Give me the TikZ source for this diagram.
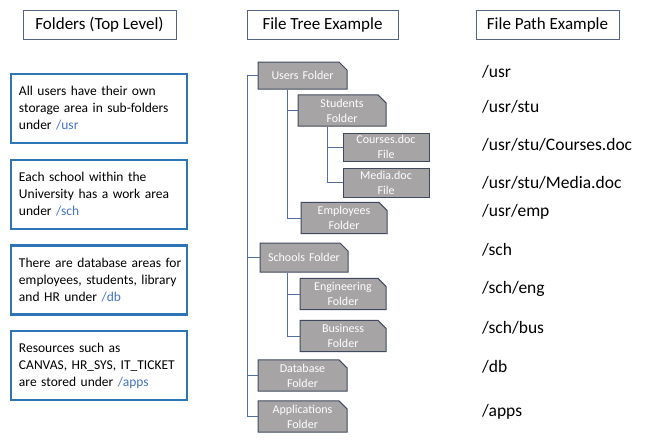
\documentclass[tikz,border=0pt]{standalone}
\usepackage{fontspec}
\setmainfont{Carlito}
\usepackage{tikz}
\usetikzlibrary{positioning,shapes.misc}
\definecolor{noteblue}{RGB}{46,117,181}
\definecolor{linkblue}{RGB}{68,114,196}
\definecolor{foldergray}{RGB}{166,164,165}
\definecolor{folderedge}{RGB}{64,74,94}
\definecolor{branchblue}{RGB}{80,110,160}
\definecolor{headedge}{RGB}{84,100,130}
\newcommand{\noteline}[1]{\mbox{#1}}
\tikzset{
  headbox/.style={draw=headedge,line width=0.8pt,inner sep=0pt,align=center,
                  minimum height=29pt,font=\fontsize{17}{20}\selectfont},
  notebox/.style={draw=noteblue,line width=2.2pt,inner sep=0pt,align=left,text width=160pt,
                  minimum width=176pt,minimum height=69pt,font=\fontsize{13.5}{17}\selectfont},
  filebox/.style={draw=folderedge,line width=1pt,fill=foldergray,text=white,inner sep=0pt,
                  align=center,text width=80pt,minimum width=86pt,minimum height=29pt,
                  font=\fontsize{12}{15}\selectfont},
  folder/.style={filebox,chamfered rectangle,chamfered rectangle corners=north east,
                 chamfered rectangle xsep=4pt,chamfered rectangle ysep=4pt},
  branch/.style={draw=branchblue,line width=0.8pt},
  pathtxt/.style={anchor=west,inner sep=0pt,font=\fontsize{17.5}{20}\selectfont},
}
\begin{document}
\begin{tikzpicture}[x=1pt,y=-1pt]
  \useasboundingbox (0,0) rectangle (645,440);
  % headers
  \node[headbox,minimum width=153pt] (hfold) at (99.5,24.5) {Folders (Top Level)};
  \node[headbox,minimum width=151pt] (htree) at (322.5,25) {File Tree Example};
  \node[headbox,minimum width=143pt] (hpath) at (547.5,25) {File Path Example};
  % notes on the left
  \node[notebox] (nusr) at (99,108.5) {\noteline{All users have their own}\\\noteline{storage area in sub-folders}\\under \textcolor{linkblue}{/usr}};
  \node[notebox] (nsch) at (99,194.5) {\noteline{Each school within the}\\\noteline{University has a work area}\\under \textcolor{linkblue}{/sch}};
  \node[notebox] (ndb) at (99,280) {\noteline{There are database areas for}\\\noteline{employees, students, library}\\\noteline{and HR under \textcolor{linkblue}{/db}}};
  \node[notebox] (napps) at (99,365.5) {\noteline{Resources such as}\\\noteline{CANVAS, HR\_SYS, IT\_TICKET}\\\noteline{are stored under \textcolor{linkblue}{/apps}}};
  % file tree
  \node[folder,minimum width=89pt,minimum height=27pt] (users) at (302.5,75.5) {Users Folder};
  \node[folder] (students) at (342,110.5) {Students\\Folder};
  \node[filebox,minimum height=28pt] (courses) at (386,147) {Courses.doc\\File};
  \node[filebox] (media) at (386,182.5) {Media.doc\\File};
  \node[folder,minimum height=30pt,text width=62pt] (employees) at (344,218) {Employees\\Folder};
  \node[folder,minimum width=88pt] (schools) at (304,257.5) {Schools Folder};
  \node[folder,minimum height=30pt,text width=62pt] (eng) at (343,294) {Engineering\\Folder};
  \node[folder,minimum height=30pt,text width=62pt] (bus) at (343,336) {Business\\Folder};
  \node[folder,minimum width=89pt] (dbase) at (302.5,375.5) {Database\\Folder};
  \node[folder,minimum width=89pt] (apps) at (302.5,416.5) {Applications\\Folder};
  % branches
  \coordinate (trunk) at (247,0);
  \coordinate (ustem) at ([xshift=30pt]users.south west);
  \coordinate (sstem) at ([xshift=30pt]students.south west);
  \coordinate (schstem) at ([xshift=28pt]schools.south west);
  \draw[branch] (users.west) -- (users.west -| trunk) |- (apps.west);
  \draw[branch] (schools.west -| trunk) -- (schools.west);
  \draw[branch] (dbase.west -| trunk) -- (dbase.west);
  \draw[branch] (ustem) |- (employees.west);
  \draw[branch] (ustem |- students.west) -- (students.west);
  \draw[branch] (sstem) |- (media.west);
  \draw[branch] (sstem |- courses.west) -- (courses.west);
  \draw[branch] (schstem) |- (bus.west);
  \draw[branch] (schstem |- eng.west) -- (eng.west);
  % file paths
  \node[pathtxt] (pusr) at (482,72) {/usr};
  \node[pathtxt] (pstu) at (482,107) {/usr/stu};
  \node[pathtxt] (pcourses) at (482,145) {/usr/stu/Courses.doc};
  \node[pathtxt] (pmedia) at (482,183) {/usr/stu/Media.doc};
  \node[pathtxt] (pemp) at (482,212) {/usr/emp};
  \node[pathtxt] (psch) at (482,250) {/sch};
  \node[pathtxt] (peng) at (482,289) {/sch/eng};
  \node[pathtxt] (pbus) at (482,328) {/sch/bus};
  \node[pathtxt] (pdb) at (482,367) {/db};
  \node[pathtxt] (papps) at (482,412) {/apps};
\end{tikzpicture}
\end{document}
